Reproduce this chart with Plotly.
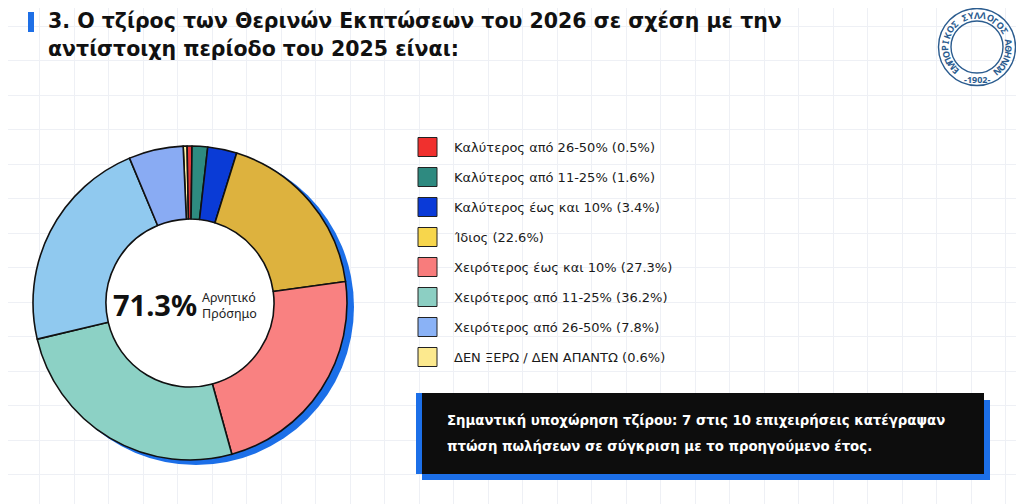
import math
import plotly.graph_objects as go

W, H = 1024, 504
OFF = 8  # the html page has an 8px body margin; the figure is shifted to compensate

title_lines = ["3. Ο τζίρος των Θερινών Εκπτώσεων του 2026 σε σχέση με την",
               "αντίστοιχη περίοδο του 2025 είναι:"]

# legend as printed on the chart
legend_labels = ["Καλύτερος από 26-50%", "Καλύτερος από 11-25%", "Καλύτερος έως και 10%",
                 "Ίδιος", "Χειρότερος έως και 10%", "Χειρότερος από 11-25%",
                 "Χειρότερος από 26-50%", "ΔΕΝ ΞΕΡΩ / ΔΕΝ ΑΠΑΝΤΩ"]
legend_pct = [0.5, 1.6, 3.4, 22.6, 27.3, 36.2, 7.8, 0.6]
legend_colors = ["#F0302E", "#2E8A80", "#0A3AD8", "#F7D64C",
                 "#F87C7C", "#8CCFC3", "#8AB2F6", "#FCE98E"]

# slices as they are drawn in the picture, clockwise from just left of 12 o'clock
slice_labels = ["ΔΕΝ ΞΕΡΩ / ΔΕΝ ΑΠΑΝΤΩ", "Καλύτερος από 26-50%", "Καλύτερος από 11-25%",
                "Καλύτερος έως και 10%", "Ίδιος", "Χειρότερος έως και 10%",
                "Χειρότερος από 11-25%", "Χειρότερος (γαλάζιο)", "Χειρότερος από 26-50%"]
slice_share = [0.4, 0.5, 1.6, 3.0, 18.0, 22.9, 25.6, 22.4, 5.6]
slice_colors = ["#FFF2A6", "#E8383A", "#2E8B80", "#0A3BD6", "#DDB23E",
                "#F98181", "#8CD1C5", "#90C9EF", "#89ABF3"]

negative_total = "71.3%"
negative_label = ["Αρνητικό", "Πρόσημο"]

note_lines = ["Σημαντική υποχώρηση τζίρου: 7 στις 10 επιχειρήσεις κατέγραψαν",
              "πτώση πωλήσεων σε σύγκριση με το προηγούμενο έτος."]

logo_ring = "ΕΜΠΟΡΙΚΟΣ ΣΥΛΛΟΓΟΣ ΑΘΗΝΩΝ"
logo_year = "-1902-"

FONT = "Noto Sans"
WIDE = "DejaVu Sans"
ACCENT = "#1E6FE6"
LOGO = "#2B5C8F"

# pie geometry in page pixels
cx, cy, r = 190, 303, 157
hole = 0.535
FW, FH = W - OFF, H - OFF

fig = go.Figure()

# empty trace so the pixel-based cartesian axes (grid + overlays) exist
fig.add_trace(go.Scatter(x=[], y=[], showlegend=False, hoverinfo="skip"))

fig.add_trace(go.Pie(
    labels=slice_labels,
    values=slice_share,
    sort=False,
    direction="clockwise",
    rotation=-2.5,
    hole=hole,
    textinfo="none",
    hoverinfo="label+percent",
    showlegend=False,
    marker=dict(colors=slice_colors, line=dict(color="#111111", width=1.6)),
    domain=dict(x=[(cx - r - OFF) / FW, (cx + r - OFF) / FW],
                y=[(H - cy - r) / FH, (H - cy + r) / FH]),
))

shapes = []
# blue drop shadow of the donut + white fill of the hole
shapes.append(dict(type="circle", xref="x", yref="y", layer="between",
                   x0=cx + 6 - r - 1, x1=cx + 6 + r + 1, y0=cy + 4 - r - 1, y1=cy + 4 + r + 1,
                   fillcolor="#1C6FE8", line=dict(width=0)))
hr = r * hole
shapes.append(dict(type="circle", xref="x", yref="y", layer="between",
                   x0=cx - hr, x1=cx + hr, y0=cy - hr, y1=cy + hr,
                   fillcolor="white", line=dict(width=0)))

# title accent bar
shapes.append(dict(type="rect", xref="x", yref="y", layer="between",
                   x0=28, x1=34, y0=12, y1=32, fillcolor=ACCENT, line=dict(width=0)))

annotations = []
for k, line in enumerate(title_lines):
    annotations.append(dict(x=46, y=21 + 28 * k, xref="x", yref="y", xanchor="left", yanchor="middle",
                            text="<b>" + line + "</b>", showarrow=False,
                            font=dict(family=WIDE, size=20.5, color="#111111")))

# centre text
annotations.append(dict(x=cx + 9, y=cy + 1, xref="x", yref="y", xanchor="right", yanchor="middle",
                        text="<b>" + negative_total + "</b>", showarrow=False,
                        font=dict(family=FONT, size=29, color="#111111")))
annotations.append(dict(x=cx + 10, y=cy + 2, xref="x", yref="y", xanchor="left", yanchor="middle",
                        text="<br>".join(negative_label), showarrow=False, align="left",
                        font=dict(family=FONT, size=12.5, color="#222222")))

# legend
row0, gap, sq = 147, 30, 19
for i, (lab, pct, col) in enumerate(zip(legend_labels, legend_pct, legend_colors)):
    yc = row0 + i * gap
    shapes.append(dict(type="rect", xref="x", yref="y", layer="between",
                       x0=418, x1=418 + sq, y0=yc - sq / 2, y1=yc + sq / 2,
                       fillcolor=col, line=dict(color="#222222", width=1)))
    annotations.append(dict(x=452, y=yc, xref="x", yref="y", xanchor="left", yanchor="middle",
                            text=f"{lab} ({pct}%)", showarrow=False,
                            font=dict(family=WIDE, size=13, color="#1A1A1A")))

# note box with blue shadow
shapes.append(dict(type="rect", xref="x", yref="y", layer="between",
                   x0=422, x1=990, y0=400, y1=480, fillcolor="#1C6FE8", line=dict(width=0)))
shapes.append(dict(type="rect", xref="x", yref="y", layer="between",
                   x0=416, x1=422, y0=393, y1=474, fillcolor="#1C6FE8", line=dict(width=0)))
shapes.append(dict(type="rect", xref="x", yref="y", layer="between",
                   x0=422, x1=984, y0=393, y1=474, fillcolor="#0D0D0D", line=dict(width=0)))
for k, line in enumerate(note_lines):
    annotations.append(dict(x=445, y=420 + 26 * k, xref="x", yref="y", xanchor="left", yanchor="middle",
                            text="<b>" + line + "</b>", showarrow=False,
                            font=dict(family=WIDE, size=13.3, color="white")))

# logo: two rings, lettering around, year at the bottom
lx, ly = 977, 47
for rad in (38.5, 26):
    shapes.append(dict(type="circle", xref="x", yref="y", layer="between",
                       x0=lx - rad, x1=lx + rad, y0=ly - rad, y1=ly + rad,
                       line=dict(color=LOGO, width=1.4)))
start, stop = -138, 140
step = (stop - start) / (len(logo_ring) - 1)
for k, ch in enumerate(logo_ring):
    if ch == " ":
        continue
    a = start + k * step
    ar = math.radians(a)
    annotations.append(dict(x=lx + 32 * math.sin(ar), y=ly - 32 * math.cos(ar),
                            xref="x", yref="y", xanchor="center", yanchor="middle",
                            text="<b>" + ch + "</b>", textangle=a, showarrow=False,
                            font=dict(family=FONT, size=9, color=LOGO)))
annotations.append(dict(x=lx, y=ly + 32, xref="x", yref="y", xanchor="center", yanchor="middle",
                        text="<b>" + logo_year + "</b>", showarrow=False,
                        font=dict(family=FONT, size=9, color=LOGO)))

fig.update_layout(
    width=FW, height=FH,
    margin=dict(l=0, r=0, t=0, b=0),
    paper_bgcolor="white", plot_bgcolor="white",
    xaxis=dict(range=[OFF, W], domain=[0, 1], showgrid=True, gridcolor="#EEF0F5", gridwidth=1,
               tick0=5, dtick=34.5, showticklabels=False, zeroline=False, showline=False,
               ticks="", fixedrange=True),
    yaxis=dict(range=[H, OFF], domain=[0, 1], showgrid=True, gridcolor="#EEF0F5", gridwidth=1,
               tick0=26, dtick=34.5, showticklabels=False, zeroline=False, showline=False,
               ticks="", fixedrange=True),
    shapes=shapes,
    annotations=annotations,
    showlegend=False,
)

fig.write_html("out.html")
